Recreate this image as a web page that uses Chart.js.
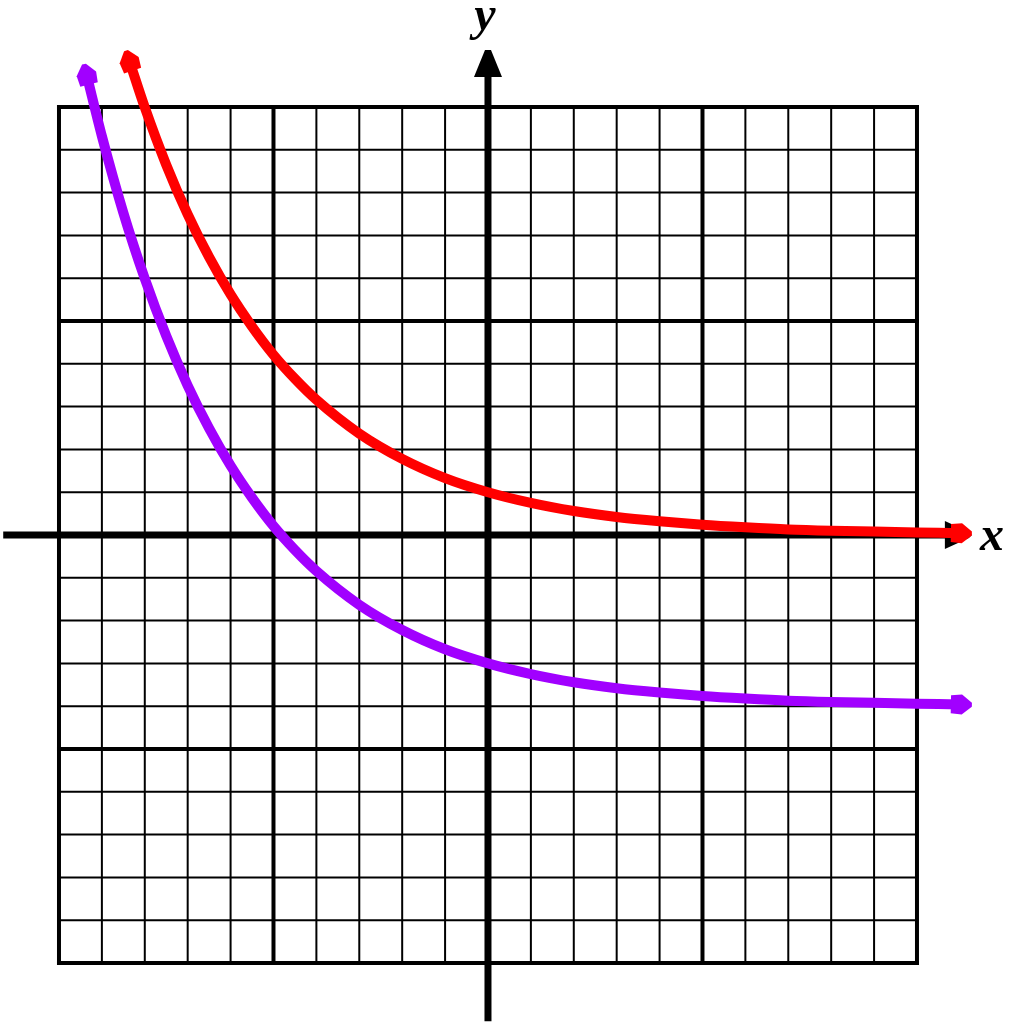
<!DOCTYPE html>
<html>
<head>
<meta charset="utf-8">
<script src="https://cdn.jsdelivr.net/npm/chart.js@4"></script>
<style>
  html, body { margin: 0; padding: 0; background: #ffffff; }
  #wrap { width: 1009px; height: 1024px; position: relative; }
</style>
</head>
<body>
<div id="wrap"><canvas id="graph"></canvas></div>
<script>
// values (grid unit = 1)
const redX = [-8.35, -8, -7.5, -7, -6.5, -6, -5.5, -5, -4.5, -4, -3, -2, -1, 0, 1, 2, 3, 4, 5, 6, 7, 8, 9, 10, 11];
const redY = [11.05, 9.99, 8.65, 7.49, 6.49, 5.62, 4.87, 4.21, 3.65, 3.16, 2.37, 1.78, 1.33, 1, 0.75, 0.56, 0.42, 0.32, 0.24, 0.18, 0.13, 0.1, 0.08, 0.06, 0.04];
const purpleX = [-9.35, -9, -8.5, -8, -7.5, -7, -6.5, -6, -5.5, -5, -4.5, -4, -3, -2, -1, 0, 1, 2, 3, 4, 5, 6, 7, 8, 9, 10, 11];
const purpleY = [10.73, 9.32, 7.53, 5.99, 4.65, 3.49, 2.49, 1.62, 0.87, 0.21, -0.35, -0.84, -1.63, -2.22, -2.67, -3, -3.25, -3.44, -3.58, -3.68, -3.76, -3.82, -3.87, -3.9, -3.92, -3.94, -3.96];
const gridTicks = [-10, -9, -8, -7, -6, -5, -4, -3, -2, -1, 0, 1, 2, 3, 4, 5, 6, 7, 8, 9, 10];
const axisNames = ["x", "y"];

const RED = "#ff0000";
const PURPLE = "#a100ff";

function toPoints(xs, ys) {
  return xs.map((x, i) => ({ x: x, y: ys[i] }));
}

// grid + axes behind the curves
const gridPlugin = {
  id: "grid",
  beforeDatasetsDraw(chart) {
    const ctx = chart.ctx;
    const xs = chart.scales.x;
    const ys = chart.scales.y;
    const lo = gridTicks[0];
    const hi = gridTicks[gridTicks.length - 1];
    ctx.save();
    ctx.strokeStyle = "#000";
    ctx.lineCap = "square";
    gridTicks.forEach((t) => {
      ctx.lineWidth = t % 5 === 0 ? 4 : 2;
      const px = xs.getPixelForValue(t);
      ctx.beginPath();
      ctx.moveTo(px, ys.getPixelForValue(lo));
      ctx.lineTo(px, ys.getPixelForValue(hi));
      ctx.stroke();
      const py = ys.getPixelForValue(t);
      ctx.beginPath();
      ctx.moveTo(xs.getPixelForValue(lo), py);
      ctx.lineTo(xs.getPixelForValue(hi), py);
      ctx.stroke();
    });

    // axes
    const ox = xs.getPixelForValue(0);
    const oy = ys.getPixelForValue(0);
    ctx.lineCap = "butt";
    ctx.lineWidth = 7;
    const xTip = xs.getPixelForValue(11.28);
    const yTip = ys.getPixelForValue(11.33);
    ctx.beginPath();
    ctx.moveTo(xs.getPixelForValue(-11.3), oy);
    ctx.lineTo(xTip - 20, oy);
    ctx.stroke();
    ctx.beginPath();
    ctx.moveTo(ox, ys.getPixelForValue(-11.36));
    ctx.lineTo(ox, yTip + 20);
    ctx.stroke();

    ctx.fillStyle = "#000";
    // x arrow
    ctx.beginPath();
    ctx.moveTo(xTip - 27, oy - 14);
    ctx.lineTo(xTip - 3, oy - 3);
    ctx.lineTo(xTip, oy);
    ctx.lineTo(xTip - 3, oy + 3);
    ctx.lineTo(xTip - 27, oy + 14);
    ctx.closePath();
    ctx.fill();
    // y arrow
    ctx.beginPath();
    ctx.moveTo(ox - 14, yTip + 27);
    ctx.lineTo(ox - 3, yTip);
    ctx.lineTo(ox + 3, yTip);
    ctx.lineTo(ox + 14, yTip + 27);
    ctx.closePath();
    ctx.fill();
    ctx.restore();
  },
  afterDatasetsDraw(chart) {
    const ctx = chart.ctx;
    const xs = chart.scales.x;
    const ys = chart.scales.y;
    ctx.save();
    // blunt arrow-like end markers
    chart.data.datasets.forEach((ds, di) => {
      const pts = chart.getDatasetMeta(di).data;
      const ends = [[pts[0], pts[1]], [pts[pts.length - 1], pts[pts.length - 2]]];
      ends.forEach(([p, q]) => {
        const a = Math.atan2(p.y - q.y, p.x - q.x);
        ctx.save();
        ctx.translate(p.x, p.y);
        ctx.rotate(a);
        ctx.fillStyle = ds.borderColor;
        ctx.beginPath();
        ctx.moveTo(-9, -9);
        ctx.lineTo(2, -10);
        ctx.lineTo(12, -2);
        ctx.lineTo(12, 2);
        ctx.lineTo(2, 10);
        ctx.lineTo(-9, 9);
        ctx.closePath();
        ctx.fill();
        ctx.restore();
      });
    });

    // axis names
    ctx.fillStyle = "#000";
    ctx.font = "italic bold 48px 'Liberation Serif', 'DejaVu Serif', serif";
    ctx.textAlign = "center";
    ctx.textBaseline = "alphabetic";
    ctx.fillText(axisNames[0], xs.getPixelForValue(11.75), ys.getPixelForValue(-0.35));
    ctx.fillText(axisNames[1], xs.getPixelForValue(-0.07), ys.getPixelForValue(11.8));
    ctx.restore();
  }
};

new Chart(document.getElementById("graph"), {
  type: "scatter",
  data: {
    datasets: [
      {
        data: toPoints(redX, redY),
        borderColor: RED,
        backgroundColor: RED,
        borderWidth: 10,
        showLine: true,
        pointRadius: 0,
        cubicInterpolationMode: "monotone"
      },
      {
        data: toPoints(purpleX, purpleY),
        borderColor: PURPLE,
        backgroundColor: PURPLE,
        borderWidth: 10,
        showLine: true,
        pointRadius: 0,
        cubicInterpolationMode: "monotone"
      }
    ]
  },
  options: {
    responsive: true,
    maintainAspectRatio: false,
    animation: false,
    devicePixelRatio: 1,
    layout: { padding: 0 },
    plugins: { legend: { display: false }, tooltip: { enabled: false } },
    scales: {
      x: { type: "linear", min: -11.375, max: 12.145, display: false },
      y: { type: "linear", min: -11.425, max: 12.5, display: false }
    }
  },
  plugins: [gridPlugin]
});
</script>
</body>
</html>
